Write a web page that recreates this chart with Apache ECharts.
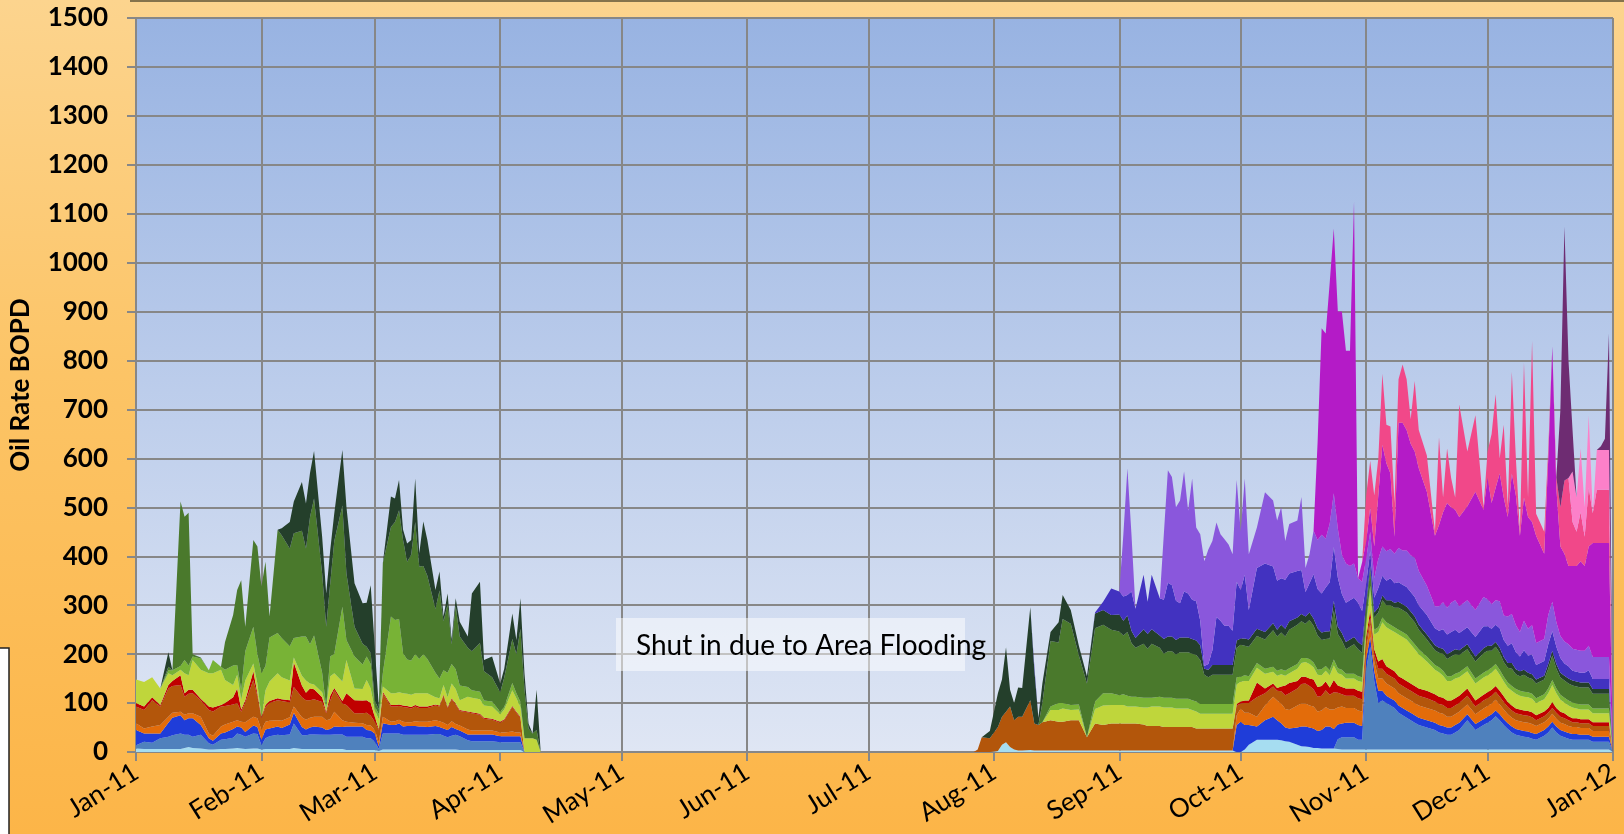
<!DOCTYPE html>
<html>
<head>
<meta charset="utf-8">
<script src="https://cdn.jsdelivr.net/npm/echarts@6/dist/echarts.min.js"></script>
<style>
  html, body { margin: 0; padding: 0; }
  #chart {
    width: 1624px; height: 834px;
    background: linear-gradient(180deg, #fcd48e 0%, #fcc466 45%, #fcb548 100%);
  }
</style>
</head>
<body>
<div id="chart"></div>
<script>
// day offsets from 1 Jan 2011 (0 = Jan 1), shared by every well
const dayOfYear = [
  0,2,4,6,8,9, 11,12,13,14,16,18,19, 21,22,24,25,26,27,29, 30,31,32,33,35,36,38,39,
  41,42,43,44,46,47,48,49, 51,52,54,56,57,58,59,60, 61,63,64,65,66,67,68,69,
  70,71,72,74,75,76,77,78,79, 80,82,83,85,86,88, 90,91,93,94,95,96,97,98,99,100,
  207,208,209,211,213,214,215,216,217,218,219, 221,222,223,224,226,228,229,231,233,235,
  237,239,241,243,244,245,246,247,249,250, 251,253,254,255,256,257,258,259,260,261,
  262,263,264,265,266,267,268,269,270,271, 272,273,274,275,277,279,281,282,283,284,
  285,287,288,289,290,291,292,293,294,295, 296,297,298,299,300,301,302,303,304,305,
  306,307,308,309,310,311,312,313,314,315, 316,317,319,321,322,323,324,325,326,327,
  329,331,333,334,335,336,337,338,339,340, 341,342,343,344,345,346,348,349,350,351,
  352,353,354,355,356,357,358,359,360,361, 362,363,364,365
];

// oil rate per well, BOPD (stacked bottom to top)
const wellCyan = [
  7,6,6,6,6,6, 6,8,10,8,7,5,5, 6,6,7,8,7,6,7, 7,5,6,6,6,6,6,8, 6,6,6,6,6,6,6,6,
  6,4,4,4,4,4,4,2, 5,5,5,5,5,5,5,5, 5,5,5,5,5,5,5,5,5, 4,4,4,4,4,4, 4,4,4,4,4,0,0,0,0,0,
  0,0,0,0,2,15,20,10,5,3,3, 4,3,3,3,3,3,3,3,3,3, 3,3,3,3,3,3,3,3,3,3, 3,3,3,3,3,3,3,3,3,3,
  3,3,3,3,3,3,3,3,3,3, 0,0,5,15,25,25,25,25,24,22, 21,15,12,11,10,8,8,7,7,7, 7,6,5,5,5,5,5,5,5,5,
  5,5,5,5,5,5,5,5,5,5, 5,5,5,5,5,5,5,5,5,5, 5,5,5,5,5,5,5,5,5,5, 5,5,5,5,5,5,5,5,5,5,
  5,5,5,5,5,5,5,5,5,5, 5,5,5,0
];
const wellSteel = [
  7,15,13,22,25,28, 32,27,25,23,28,13,10, 19,20,22,30,28,25,31, 30,9,22,26,29,28,30,50,
  28,28,30,30,29,29,29,30, 30,27,27,27,24,24,17,4, 33,33,33,33,30,30,30,30,
  30,30,30,32,32,28,25,28,30, 28,20,18,18,18,18, 16,16,16,16,16,0,0,0,0,0,
  0,0,0,0,0,0,0,0,0,0, 0,0,0,0,0,0,0,0,0,0, 0,0,0,0,0,0,0,0,0,0, 0,0,0,0,0,0,0,0,0,0,
  0,0,0,0,0,0,0,0,0,0, 0,0,0,0,0,0,0,0,0,0, 0,0,0,0,0,0,0,0,0,0, 0,
  0,20,25,25,25,25,20,20,165,210, 140,95,100,95,90,85,75,70,65,60, 55,50,45,40,35,33,30,30,35,40,
  60,40,50,55,60,68,60,50,42,35, 30,28,26,25,22,20,28,35,45,35, 28,25,22,20,20,20,20,20,16,16,
  16,16,16,0
];
const wellBlue = [
  31,17,19,10,29,36, 37,30,34,38,20,10,8, 13,14,18,14,15,10,16, 14,11,18,16,17,15,20,22,
  17,12,14,16,15,10,12,16, 15,21,21,21,17,16,17,6, 21,17,17,20,17,18,18,18,
  17,17,16,16,14,15,15,18,12, 12,12,14,14,14,14, 12,12,12,12,12,0,0,0,0,0,
  0,0,0,0,0,0,0,0,0,0, 0,0,0,0,0,0,0,0,0,0, 0,0,0,0,0,0,0,0,0,0, 0,0,0,0,0,0,0,0,0,0,
  0,0,0,0,0,0,0,0,0,0, 0,
  55,62,50,40,27,40,47,40,35,28, 27,35,40,41,40,40,35,38,45,45, 40,30,28,30,30,30,30,28,20,20,
  20,25,20,15,15,15,15,15,15,15, 15,15,15,15,15,15,15,15,15,15, 12,12,12,12,12,12,12,12,12,12,
  12,12,12,12,12,12,12,12,12,12, 12,12,12,12,12,10,10,10,10,10, 10,10,10,0
];
const wellOrange = [
  14,10,14,17,12,10, 7,11,10,10,17,10,10, 14,16,15,13,12,20,18, 18,20,16,16,13,15,15,13,
  20,20,20,20,22,20,20,30, 14,10,8,7,10,10,7,8, 13,7,8,8,10,8,8,10,
  10,10,11,12,12,12,10,12,10, 10,10,8,8,8,8, 8,8,10,8,8,0,0,0,0,0,
  0,0,0,0,0,0,0,0,0,0, 0,0,0,0,0,0,0,0,0,0, 0,0,0,0,0,0,0,0,0,0, 0,0,0,0,0,0,0,0,0,0,
  0,0,0,0,0,0,0,0,0,0, 0,
  20,27,25,25,20,30,41,40,40,38, 38,45,47,47,45,45,40,40,40,35, 40,35,35,30,30,30,30,30,20,25,
  20,25,25,25,25,25,25,25,25,25, 25,25,25,25,25,25,22,22,22,22, 20,20,22,22,22,22,20,20,18,18,
  18,18,18,18,18,16,16,16,16,16, 15,15,14,14,14,14,14,14,12,12, 12,12,12,0
];
const wellBrown = [
  34,38,54,38,58,55, 55,37,40,41,34,48,50, 41,38,35,35,20,40,75, 46,24,30,36,41,40,30,40,
  41,40,36,36,30,14,38,44, 34,34,19,20,25,20,17,25, 48,31,30,28,30,30,28,30,
  28,28,28,30,30,55,35,45,40, 30,35,35,32,24,22, 20,25,50,40,30,0,0,0,0,0,
  0,5,30,28,49,57,62,83,60,69,69, 102,55,52,58,62,59,59,62,62,27, 55,52,55,55,55,55,55,55,53,50,
  50,50,48,48,48,48,48,48,48,48, 45,45,45,45,45,45,45,45,45,45, 20,10,20,20,40,25,21,20,25,28,
  34,35,40,41,40,35,30,30,34,30, 35,30,25,25,25,25,25,25,15,15, 15,20,20,20,20,20,20,20,20,20,
  20,20,20,18,18,18,18,18,18,18, 18,16,16,16,16,16,16,15,15,15, 14,14,14,14,14,12,12,12,12,12,
  12,12,12,10,10,10,10,10,10,10, 10,10,10,0
];
const wellRed = [
  7,7,6,3,7,10, 20,7,8,7,3,7,8, 3,6,15,30,5,5,18, 5,3,4,4,4,4,5,50,
  24,15,24,20,10,3,10,5, 5,24,27,26,26,26,10,2, 3,3,3,3,3,3,3,3,
  3,3,3,2,2,2,2,2,2, 2,2,2,2,2,2, 2,2,2,2,2,0,0,0,0,0,
  0,0,0,0,0,0,0,0,0,0, 0,0,0,0,0,0,0,0,0,0, 0,0,0,0,0,0,0,0,0,0, 0,0,0,0,0,0,0,0,0,0,
  0,0,0,0,0,0,0,0,0,0, 0,
  3,4,5,5,30,10,6,6,10,20, 21,15,15,14,15,20,20,20,18,15, 25,15,15,15,15,15,15,15,10,15,
  10,15,20,15,15,15,15,15,15,15, 15,15,15,15,15,15,15,15,15,15, 15,12,12,12,12,12,12,12,10,10,
  10,10,10,10,10,10,10,10,12,10, 10,10,8,8,8,8,8,8,8,8, 8,8,8,0
];
const wellYellowGreen = [
  48,50,41,34,24,12, 11,41,30,61,59,68,70, 72,47,25,28,20,40,16, 20,0,30,40,51,45,40,10,
  20,25,10,10,10,8,40,30, 40,68,24,24,41,30,14,20, 11,24,24,25,25,25,25,24,
  27,27,27,15,15,20,20,30,30, 20,30,30,30,25,25, 15,20,32,28,20,28,28,28,25,0,
  0,0,0,0,0,0,0,0,0,0,0, 0,0,0,0,21,24,27,21,22,0, 30,40,38,38,38,35,35,35,35,38,
  40,40,40,40,40,38,38,38,38,35, 35,30,30,30,30,30,30,30,30,30, 40,41,40,40,30,30,24,25,25,20,
  20,25,28,30,30,25,25,22,22,25, 30,25,25,20,20,20,20,20,25,40, 30,60,75,80,80,80,85,85,85,80,
  75,70,60,50,50,45,40,40,40,38, 35,35,35,35,35,35,33,30,30,30, 30,28,28,28,28,25,25,30,35,30,
  25,22,22,22,20,20,20,20,18,18, 18,18,18,0
];
const wellLightGreen = [
  0,0,0,0,6,10, 8,27,20,7,23,6,27, 6,21,40,20,20,60,75, 60,89,50,90,82,80,70,40,
  80,90,80,100,40,2,40,40, 153,41,65,50,48,50,7,10, 27,157,150,150,82,70,70,80,
  70,80,70,50,40,30,50,40,40, 30,20,15,15,10,10, 5,5,15,10,10,0,0,0,0,0,
  0,0,0,0,0,0,0,0,0,0,0, 0,0,0,0,7,14,11,10,10,0, 15,25,24,20,22,22,20,20,20,20,
  18,20,20,20,20,20,20,20,20,20, 20,20,20,20,20,20,20,20,20,20, 15,10,12,10,10,10,10,10,10,10,
  10,10,10,8,10,10,10,12,10,10, 12,10,10,10,10,10,10,10,10,10, 10,10,10,10,10,10,10,10,10,10,
  10,10,10,10,10,10,10,10,10,10, 10,10,10,10,10,10,10,10,10,10, 10,10,10,10,10,10,10,10,10,10,
  10,10,10,10,10,10,10,10,10,10, 10,10,10,0
];
const wellGreen = [
  0,0,0,0,7,0, 336,293,312,5,2,0,0, 0,57,103,153,224,50,177, 220,177,213,43,211,210,200,214,
  216,180,260,280,203,164,150,230, 207,136,61,42,20,22,13,10, 225,183,200,222,231,200,216,270,
  189,180,170,130,180,100,140,40,130, 100,80,80,100,60,50, 40,60,90,80,150,100,20,10,20,0,
  0,0,0,0,0,0,0,0,0,0,0, 0,0,0,40,134,124,172,166,100,110, 150,140,130,130,120,130,110,100,110,100,
  110,100,90,95,95,90,95,95,95,95, 95,90,60,55,60,60,60,60,60,60, 60,65,60,60,55,60,75,70,75,70,
  79,80,75,70,80,75,70,60,55,65, 100,70,60,50,55,60,55,50,25,30, 25,30,35,35,40,40,45,45,45,45,
  45,40,35,30,30,35,35,40,40,35, 35,35,40,40,35,35,35,30,30,35, 30,30,35,30,30,30,30,40,50,40,
  35,35,35,35,35,35,35,35,30,30, 30,30,30,0
];
const wellDarkGreen = [
  0,0,0,0,30,0, 0,0,0,0,0,0,0, 0,0,0,0,0,0,0, 0,0,0,0,0,14,54,65,
  100,92,90,97,75,68,68,57, 113,136,89,83,90,139,109,6, 0,62,48,62,21,37,30,89,
  27,91,73,39,39,10,22,10,15, 30,23,118,125,23,42, 18,18,52,29,62,33,10,0,82,0,
  0,0,0,15,69,76,132,34,35,60,59, 190,110,15,40,18,41,49,28,20,15, 30,30,30,35,30,34,25,20,30,30,
  30,25,30,30,30,30,30,30,30,30, 30,30,12,15,20,20,20,20,20,20, 15,13,15,15,15,15,14,14,16,16,
  17,15,15,15,15,15,15,15,15,15, 20,15,15,15,15,15,15,15,10,10, 10,10,10,10,10,10,12,12,12,12,
  12,10,10,10,10,10,10,10,10,10, 10,10,10,10,10,10,10,10,10,12, 10,10,10,10,10,8,8,10,10,10,
  10,10,10,10,10,10,10,10,10,10, 10,10,10,0
];
const wellIndigo = [
  0,0,0,0,0,0,0,0,0,0, 0,0,0,0,0,0,0,0,0,0, 0,0,0,0,0,0,0,0,0,0, 0,0,0,0,0,0,0,0,0,0,
  0,0,0,0,0,0,0,0,0,0, 0,0,0,0,0,0,0,0,0,0, 0,0,0,0,0,0,0,0,0,0, 0,0,0,0,0,0,0,
  0,0,0,0,0,0,0,0,0,0,0, 0,8,0,0,0,0,0,0,0,0, 2,17,54,47,50,42,80,60,111,66,
  111,76,80,110,105,80,70,94,90,80, 80,50,6,12,30,98,90,80,80,70, 120,99,130,60,124,140,116,100,95,100,
  98,95,90,50,60,90,80,80,90,100, 110,100,80,80,80,80,80,70,40,30, 30,40,40,40,45,40,40,40,40,40,
  40,40,40,35,35,40,40,40,40,35, 35,40,45,40,35,35,40,35,35,40, 35,30,40,35,40,30,30,40,40,35,
  30,25,25,20,20,20,20,25,20,20, 20,20,20,0
];
const wellPurple = [
  0,0,0,0,0,0,0,0,0,0, 0,0,0,0,0,0,0,0,0,0, 0,0,0,0,0,0,0,0,0,0, 0,0,0,0,0,0,0,0,0,0,
  0,0,0,0,0,0,0,0,0,0, 0,0,0,0,0,0,0,0,0,0, 0,0,0,0,0,0,0,0,0,0, 0,0,0,0,0,0,0,
  0,0,0,0,0,0,0,0,0,0,0, 0,0,0,0,0,0,0,0,0,0, 0,0,0,0,127,259,117,0,0,0,
  0,0,134,230,221,191,210,245,169,248, 151,177,214,234,223,193,177,177,166,156, 208,119,197,114,83,146,135,123,145,79,
  101,103,149,49,59,89,100,120,100,120, 110,100,80,80,70,70,50,60,50,40, 40,60,60,60,60,60,70,70,75,75,
  80,70,60,45,50,55,55,60,60,55, 55,55,60,55,50,50,55,50,60,60, 55,50,60,55,60,45,45,60,60,50,
  45,45,45,45,45,45,45,50,45,45, 45,45,45,0
];
const wellMagenta = [
  0,0,0,0,0,0,0,0,0,0, 0,0,0,0,0,0,0,0,0,0, 0,0,0,0,0,0,0,0,0,0, 0,0,0,0,0,0,0,0,0,0,
  0,0,0,0,0,0,0,0,0,0, 0,0,0,0,0,0,0,0,0,0, 0,0,0,0,0,0,0,0,0,0, 0,0,0,0,0,0,0,
  0,0,0,0,0,0,0,0,0,0, 0,0,0,0,0,0,0,0,0,0, 0,0,0,0,0,0,0,0,0,0, 0,0,0,0,0,0,0,0,0,0,
  0,0,0,0,0,0,0,0,0,0, 0,0,0,0,0,0,0,0,0,0, 0,
  0,0,0,0,0,0,200,422,419,493, 541,444,497,435,440,740,0,40,35,50, 65,129,208,180,154,35,256,261,246,228,
  217,210,192,144,166,184,214,195,185,182, 192,242,178,249,207,230,261,241,203,287,
  265,197,252,228,211,219,174,320,522,274, 183,179,160,169,171,183,173,203,233,233, 233,233,233,0
];
const wellPink = [
  0,0,0,0,0,0,0,0,0,0, 0,0,0,0,0,0,0,0,0,0, 0,0,0,0,0,0,0,0,0,0, 0,0,0,0,0,0,0,0,0,0,
  0,0,0,0,0,0,0,0,0,0, 0,0,0,0,0,0,0,0,0,0, 0,0,0,0,0,0,0,0,0,0, 0,0,0,0,0,0,0,
  0,0,0,0,0,0,0,0,0,0, 0,0,0,0,0,0,0,0,0,0, 0,0,0,0,0,0,0,0,0,0, 0,0,0,0,0,0,0,0,0,0,
  0,0,0,0,0,0,0,0,0,0, 0,0,0,0,0,0,0,0,0,0, 0,0,0,0,0,0,0,0,0,0, 0,
  0,0,0,0,0,0,0,0,94,95, 104,76,145,79,96,69,89,119,104,50, 144,78,74,8,179,30,111,60,25,230,
  112,156,5,53,141,191,31,149,22,208, 76,8,276,40,370,45,45,20,0,22,
  80,150,180,90,70,100,60,120,61,109, 109,109,109,0
];
const wellLightPink = [
  0,0,0,0,0,0,0,0,0,0, 0,0,0,0,0,0,0,0,0,0, 0,0,0,0,0,0,0,0,0,0, 0,0,0,0,0,0,0,0,0,0,
  0,0,0,0,0,0,0,0,0,0, 0,0,0,0,0,0,0,0,0,0, 0,0,0,0,0,0,0,0,0,0, 0,0,0,0,0,0,0,
  0,0,0,0,0,0,0,0,0,0, 0,0,0,0,0,0,0,0,0,0, 0,0,0,0,0,0,0,0,0,0, 0,0,0,0,0,0,0,0,0,0,
  0,0,0,0,0,0,0,0,0,0, 0,0,0,0,0,0,0,0,0,0, 0,0,0,0,0,0,0,0,0,0, 0,0,0,0,0,0,0,0,0,0,
  0,0,0,0,0,0,0,0,0,0, 0,0,0,0,0,0,0,0,0,0, 0,0,0,0,0,0,0,0,0,0, 0,0,0,0,0,0,0,0,0,0,
  0,
  0,0,0,103,70,130,60,148,0,81, 81,81,81,0
];
const wellPlum = [
  0,0,0,0,0,0,0,0,0,0, 0,0,0,0,0,0,0,0,0,0, 0,0,0,0,0,0,0,0,0,0, 0,0,0,0,0,0,0,0,0,0,
  0,0,0,0,0,0,0,0,0,0, 0,0,0,0,0,0,0,0,0,0, 0,0,0,0,0,0,0,0,0,0, 0,0,0,0,0,0,0,
  0,0,0,0,0,0,0,0,0,0, 0,0,0,0,0,0,0,0,0,0, 0,0,0,0,0,0,0,0,0,0, 0,0,0,0,0,0,0,0,0,0,
  0,0,0,0,0,0,0,0,0,0, 0,0,0,0,0,0,0,0,0,0, 0,0,0,0,0,0,0,0,0,0, 0,0,0,0,0,0,0,0,0,0,
  0,0,0,0,0,0,0,0,0,0, 0,0,0,0,0,0,0,0,0,0, 0,0,0,0,0,0,0,0,0,0, 0,0,0,0,0,0,0,0,0,0,
  0,
  200,519,240,85,0,0,0,0,0,0, 8,23,238,0
];

const monthNames = ['Jan','Feb','Mar','Apr','May','Jun','Jul','Aug','Sep','Oct','Nov','Dec'];

const wells = [
  { name: 'Well 1',  color: '#a6ddf1', values: wellCyan },
  { name: 'Well 2',  color: '#4f81bd', values: wellSteel },
  { name: 'Well 3',  color: '#1f3dd9', values: wellBlue },
  { name: 'Well 4',  color: '#e36c0a', values: wellOrange },
  { name: 'Well 5',  color: '#b3560b', values: wellBrown },
  { name: 'Well 6',  color: '#c00000', values: wellRed },
  { name: 'Well 7',  color: '#bfd63b', values: wellYellowGreen },
  { name: 'Well 8',  color: '#78b336', values: wellLightGreen },
  { name: 'Well 9',  color: '#4a792c', values: wellGreen },
  { name: 'Well 10', color: '#243f2b', values: wellDarkGreen },
  { name: 'Well 11', color: '#4232c0', values: wellIndigo },
  { name: 'Well 12', color: '#8a57dc', values: wellPurple },
  { name: 'Well 13', color: '#b41bc7', values: wellMagenta },
  { name: 'Well 14', color: '#f14889', values: wellPink },
  { name: 'Well 15', color: '#fc80c9', values: wellLightPink },
  { name: 'Well 16', color: '#6e2c72', values: wellPlum }
];

const DAY = 86400000;
const start = Date.UTC(2011, 0, 1);
wells.forEach(w => {
  if (w.values.length !== dayOfYear.length) console.error(w.name, w.values.length, dayOfYear.length);
});

const gridCol = '#878787';

const chart = echarts.init(document.getElementById('chart'), null, { renderer: 'canvas' });
chart.setOption({
  animation: false,
  useUTC: true,
  backgroundColor: 'transparent',
  grid: {
    left: 135, right: 11, top: 18, bottom: 82,
    show: true, borderWidth: 0,
    backgroundColor: {
      type: 'linear', x: 0, y: 0, x2: 0, y2: 1,
      colorStops: [{ offset: 0, color: '#98b3e2' }, { offset: 1, color: '#dfe6f4' }]
    }
  },
  xAxis: {
    type: 'time',
    min: start,
    max: Date.UTC(2012, 0, 1),
    splitNumber: 12,
    minInterval: 28 * DAY,
    maxInterval: 31 * DAY,
    axisLine: { lineStyle: { color: gridCol, width: 2 } },
    axisTick: { show: true, length: 9, lineStyle: { color: gridCol, width: 2 } },
    splitLine: { show: true, lineStyle: { color: gridCol, width: 2 } },
    axisLabel: {
      rotate: 32, margin: 18, color: '#000',
      fontFamily: 'Lato', fontSize: 26,
      showMinLabel: true, showMaxLabel: true, hideOverlap: false,
      formatter: v => {
        const d = new Date(v);
        return monthNames[d.getUTCMonth()] + '-' + String(d.getUTCFullYear()).slice(2);
      }
    }
  },
  yAxis: {
    type: 'value', min: 0, max: 1500, interval: 100,
    name: 'Oil Rate BOPD', nameLocation: 'middle', nameGap: 102,
    nameTextStyle: { fontFamily: 'Lato', fontWeight: 'bold', fontSize: 26, color: '#000' },
    axisLine: { show: true, lineStyle: { color: gridCol, width: 2 } },
    axisTick: { show: true, length: 9, lineStyle: { color: gridCol, width: 2 } },
    splitLine: { show: true, lineStyle: { color: gridCol, width: 2 } },
    axisLabel: {
      color: '#000', fontFamily: 'Lato', fontWeight: 'bold', fontSize: 26, margin: 28,
      formatter: v => String(v)
    }
  },
  series: wells.map(w => ({
    name: w.name,
    type: 'line',
    stack: 'oil',
    symbol: 'none',
    color: w.color,
    lineStyle: { width: 0 },
    areaStyle: { color: w.color, opacity: 1 },
    data: dayOfYear.map((d, i) => [start + d * DAY, w.values[i]])
  })),
  graphic: [
    { type: 'line', shape: { x1: 130, y1: 1, x2: 1624, y2: 1 }, style: { stroke: '#85734c', lineWidth: 2 } },
    { type: 'rect', shape: { x: -2, y: 648, width: 11, height: 190 }, style: { fill: '#ffffff', stroke: '#222', lineWidth: 1.5 } },
    { type: 'rect', shape: { x: 616, y: 618, width: 349, height: 53 }, style: { fill: 'rgba(255,255,255,0.5)' }, z: 100 },
    { type: 'text', x: 636, y: 646, z: 101,
      style: { text: 'Shut in due to Area Flooding', fill: '#000', font: '28px Lato', verticalAlign: 'middle' } }
  ]
});
</script>
</body>
</html>
